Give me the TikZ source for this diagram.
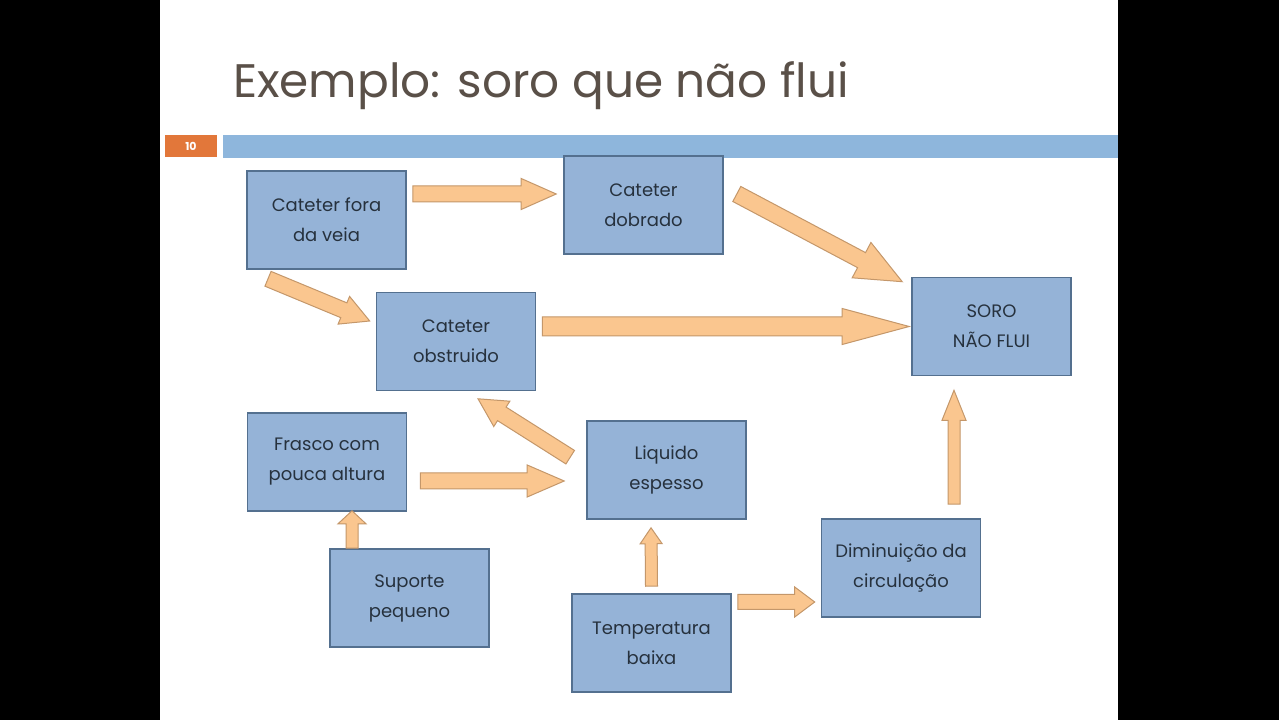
\documentclass[tikz,border=0pt]{standalone}
\usepackage{fontspec}
\setmainfont{Poppins}
\usetikzlibrary{calc}

\definecolor{boxfill}{HTML}{95B3D7}
\definecolor{boxline}{HTML}{54708F}
\definecolor{boxtext}{HTML}{26313D}
\definecolor{arrowfill}{HTML}{FAC68F}
\definecolor{arrowline}{HTML}{C4976A}
\definecolor{titlegray}{HTML}{5A5048}
\definecolor{barblue}{HTML}{8EB6DC}
\definecolor{tagorange}{HTML}{E2773A}

\tikzset{
  fat shaft/.store in=\fatshaft, fat head/.store in=\fathead, fat len/.store in=\fatlen,
  fat shaft=8, fat head=15, fat len=30,
  fat/.style={draw=arrowline, fill=arrowfill, line width=1pt, line join=miter,
    to path={let \p1=(\tikztostart), \p2=(\tikztotarget),
      \n1={atan2(\y2-\y1,\x2-\x1)}, \n2={veclen(\x2-\x1,\y2-\y1)-\fatlen} in
      ($(\p1)+(\n1+90:\fatshaft)$) -- ($(\p1)+(\n1:\n2)+(\n1+90:\fatshaft)$)
      -- ($(\p1)+(\n1:\n2)+(\n1+90:\fathead)$) -- (\p2)
      -- ($(\p1)+(\n1:\n2)+(\n1-90:\fathead)$) -- ($(\p1)+(\n1:\n2)+(\n1-90:\fatshaft)$)
      -- ($(\p1)+(\n1-90:\fatshaft)$) -- cycle}},
  cause/.style={draw=boxline, fill=boxfill, line width=1.6pt, minimum width=159,
    minimum height=98, align=center, text=boxtext, font=\fontsize{18}{30}\selectfont}
}

\begin{document}
\begin{tikzpicture}[x=1pt, y=1pt]
  \useasboundingbox (0,0) rectangle (1279,720);
  % slide
  \fill[black] (0,0) rectangle (1279,720);
  \fill[white] (160,0) rectangle (1118,720);
  \node[anchor=base west, inner sep=0pt, text=titlegray, font=\fontsize{47}{52}\selectfont] (title) at (233,622) {Exemplo: soro que não flui};
  \fill[barblue] (223,562) rectangle (1118,585);
  \fill[tagorange] (165,563) rectangle (217,585);
  \node[text=white, font=\fontsize{11}{12}\selectfont\bfseries] (page) at (191,574) {10};

  % boxes
  \node[cause] (fora) at (326.5,500) {Cateter fora\\da veia};
  \node[cause] (dobrado) at (643.5,515) {Cateter\\dobrado};
  \node[cause] (soro) at (991.5,393.5) {SORO\\NÃO FLUI};
  \node[cause] (obstru) at (456,378.5) {Cateter\\obstruido};
  \node[cause] (frasco) at (327,258) {Frasco com\\pouca altura};
  \node[cause] (suporte) at (409.5,122) {Suporte\\pequeno};
  \node[cause] (liquido) at (666.5,250) {Liquido\\espesso};
  \node[cause] (temp) at (651.5,77) {Temperatura\\baixa};
  \node[cause] (dimin) at (901,152) {Diminuição da\\circulação};

  % arrows
  \draw[fat, fat head=15.5, fat len=35] ([shift={(6,26)}]fora.east) to ([shift={(-7,11)}]dobrado.west);
  \draw[fat, fat shaft=8.5, fat head=20, fat len=46] ([shift={(13,11)}]dobrado.east) to ([shift={(-9,-5)}]soro.north west);
  \draw[fat, fat len=28] ([shift={(-58.5,-9)}]fora.south) to ([shift={(-6,20.5)}]obstru.west);
  \draw[fat, fat shaft=9.5, fat head=18, fat len=67] ([shift={(6,15)}]obstru.east) to ([shift={(-2,0)}]soro.west);
  \draw[fat, fat len=28] ([shift={(-16,-37)}]liquido.north west) to ([shift={(22,-7.5)}]obstru.south);
  \draw[fat, fat head=16, fat len=37] ([shift={(13,-19)}]frasco.east) to ([shift={(-22,-11)}]liquido.west);
  \draw[fat, fat shaft=6, fat head=14, fat len=13] ([shift={(-57.5,0)}]suporte.north) to ([shift={(25,1)}]frasco.south);
  \draw[fat, fat shaft=6, fat head=11, fat len=16] ([shift={(0,7)}]temp.north) to ([shift={(-15.5,-8)}]liquido.south);
  \draw[fat, fat shaft=7.5, fat head=15, fat len=20] ([shift={(6,41)}]temp.east) to ([shift={(-6,-34)}]dimin.west);
  \draw[fat, fat shaft=6, fat head=12, fat len=30] ([shift={(53,14)}]dimin.north) to ([shift={(-37.5,-14)}]soro.south);
\end{tikzpicture}
\end{document}
